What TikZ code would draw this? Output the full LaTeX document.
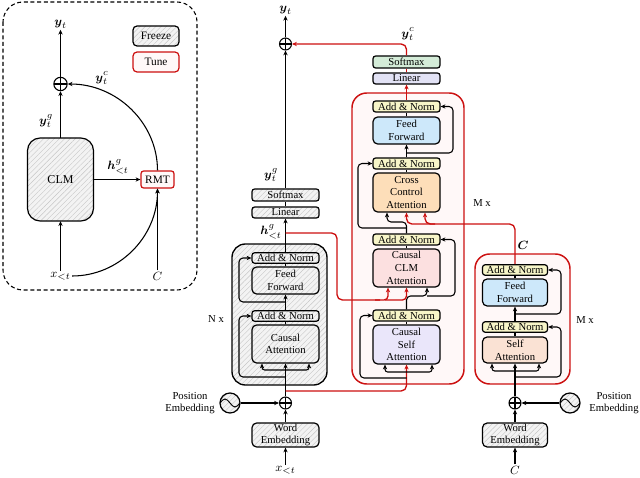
\documentclass[tikz,border=0pt]{standalone}
\usepackage{amsmath}
\usepackage{fontspec}
\setmainfont{Liberation Serif}
\usetikzlibrary{arrows.meta,patterns.meta,calc}
\definecolor{myred}{RGB}{204,16,16}
\definecolor{anY}{RGB}{247,245,200}
\definecolor{ffB}{RGB}{205,232,250}
\definecolor{ccO}{RGB}{253,222,185}
\definecolor{clmP}{RGB}{252,224,224}
\definecolor{csaL}{RGB}{234,230,250}
\definecolor{saP}{RGB}{250,226,212}
\definecolor{smG}{RGB}{212,236,216}
\definecolor{linL}{RGB}{226,226,245}
\definecolor{tuneF}{RGB}{255,248,248}
\definecolor{hatchF}{RGB}{243,243,243}
\tikzset{
  sz/.style 2 args={minimum width=#1*0.75pt, minimum height=#2*0.75pt},
  hatch/.style={preaction={fill=hatchF}, pattern={Lines[angle=45,distance=2.8pt,line width=0.3pt]}, pattern color=gray!45},
  box/.style={draw, line width=0.9pt, rounded corners=2pt, inner sep=0pt, align=center, font=\fontsize{8}{9.5}\selectfont},
  bigbox/.style={box, rounded corners=3.5pt},
  lab/.style={inner sep=1pt, font=\fontsize{9.5}{10}\selectfont},
  txt/.style={inner sep=1pt, align=center, font=\fontsize{8}{9.5}\selectfont},
  arr/.style={-{Stealth[length=3.6pt,width=3.2pt]}, line width=0.8pt},
  arrtwo/.style={{Stealth[length=3.6pt,width=3.2pt]}-{Stealth[length=3.6pt,width=3.2pt]}, line width=0.8pt},
  plainline/.style={line width=0.8pt},
  redarr/.style={-{Stealth[length=3.6pt,width=3.2pt]}, line width=1pt, myred},
  redline/.style={line width=1pt, myred},
  plusop/.style={circle, draw, line width=0.8pt, minimum size=9pt, inner sep=0pt, fill=white,
    path picture={\draw[line width=0.8pt] (path picture bounding box.north) -- (path picture bounding box.south)
      (path picture bounding box.west) -- (path picture bounding box.east);}},
  peop/.style={circle, draw, line width=0.9pt, minimum size=15pt, inner sep=0pt, hatch,
    path picture={\draw[line width=0.7pt] ([xshift=-7.5pt]path picture bounding box.center) sin ++(3.75pt,3pt) cos ++(3.75pt,-3pt) sin ++(3.75pt,-3pt) cos ++(3.75pt,3pt);}},
}
\begin{document}
\begin{tikzpicture}[x=0.75pt,y=-0.75pt]
\useasboundingbox (0,0) rectangle (640,478);

% ================= left overview panel =================
\draw[line width=0.8pt, dash pattern=on 3pt off 2pt, rounded corners=15pt] (3,2) rectangle (197,290);
\node[bigbox, hatch, sz={66}{83}, rounded corners=9.5pt, font=\fontsize{9}{10}\selectfont] (pclm) at (60.5,179.5) {CLM};
\node[box, draw=myred, fill=tuneF, sz={33}{17}, font=\fontsize{8.5}{10}\selectfont] (prmt) at (157.5,179.5) {RMT};
\node[box, hatch, sz={46}{20}, rounded corners=3pt, font=\fontsize{8.5}{10}\selectfont] (pfreeze) at (156,36) {Freeze};
\node[box, draw=myred, fill=tuneF, sz={46}{20}, rounded corners=3pt, font=\fontsize{8.5}{10}\selectfont] (ptune) at (156,62) {Tune};
\node[plusop, minimum size=10pt] (pplus) at (60.5,84) {};
\node[lab] (pyt) at (60.5,24) {$\boldsymbol{y}_t$};
\node[lab] (pyc) at (102,78) {$\boldsymbol{y}_t^{c}$};
\node[lab] (pyg) at (46,121) {$\boldsymbol{y}_t^{g}$};
\node[lab] (phg) at (118,167) {$\boldsymbol{h}^{g}_{<t}$};
\node[lab] (px) at (60.5,276) {$x_{<t}$};
\node[lab] (pC) at (157.5,276) {$C$};
\draw[arr] (pclm.north) -- (pplus.south);
\draw[arr] (pplus.north) -- (pyt.south);
\draw[arr] (pclm.east) -- (prmt.west);
\draw[arr] (prmt.north) .. controls (157.5,123) and (117,84) .. (pplus.east);
\draw[arr] (px.north) -- (pclm.south);
\draw[arr] (pC.north) -- (prmt.south);
\draw[arr] (px.east) .. controls (119,276) and (157.5,237) .. (prmt.south);

% ================= outer blocks =================
\draw[line width=1pt, rounded corners=10pt, hatch] (232,244) rectangle (327,385);
\draw[line width=1.1pt, draw=myred, fill=tuneF, rounded corners=11pt] (352,93) rectangle (464,384);
\draw[line width=1.1pt, draw=myred, fill=tuneF, rounded corners=11pt] (475,254) rectangle (570,384);

% ================= left column (frozen CLM) =================
\node[box, hatch, sz={67}{12}] (lsm) at (285.5,195) {Softmax};
\node[box, hatch, sz={67}{11}] (llin) at (285.5,212.5) {Linear};
\node[box, hatch, sz={67}{10.5}] (lan2) at (285.5,258) {Add \& Norm};
\node[bigbox, hatch, sz={67}{27}] (lff) at (285.5,280.5) {Feed\\Forward};
\node[box, hatch, sz={67}{10.5}] (lan1) at (285.5,316) {Add \& Norm};
\node[bigbox, hatch, sz={67}{38}] (lca) at (285.5,344) {Causal\\Attention};
\node[bigbox, hatch, sz={67}{24}] (lwe) at (285.5,435) {Word\\Embedding};
\node[plusop] (lplus) at (285.5,403) {};
\node[plusop] (ltop) at (285.5,44) {};
\node[peop] (lpe) at (230,403) {};
\node[lab] (lx) at (285.5,470) {$x_{<t}$};
\node[lab] (lyt) at (285.5,10) {$\boldsymbol{y}_t$};
\node[lab] (lyg) at (271,175) {$\boldsymbol{y}_t^{g}$};
\node[lab] (lhg) at (271,232) {$\boldsymbol{h}^{g}_{<t}$};
\node[txt] (lnx) at (216,319) {N x};
\node[txt] (lpel) at (190,403) {Position\\Embedding};

% ================= middle column (tuned) =================
\node[box, fill=smG, sz={67}{12}] (msm) at (406.5,62) {Softmax};
\node[box, fill=linL, sz={67}{11}] (mlin) at (406.5,78.5) {Linear};
\node[box, fill=anY, sz={67}{11}] (man6) at (406.5,106.5) {Add \& Norm};
\node[bigbox, fill=ffB, sz={67}{27}] (mff) at (406.5,130.5) {Feed\\Forward};
\node[box, fill=anY, sz={67}{11}] (man5) at (406.5,163.5) {Add \& Norm};
\node[bigbox, fill=ccO, sz={67}{39}] (mcca) at (406.5,192.5) {Cross\\Control\\Attention};
\node[box, fill=anY, sz={67}{11}] (man4) at (406.5,239.5) {Add \& Norm};
\node[bigbox, fill=clmP, sz={67}{38}] (mclm) at (406.5,268) {Causal\\CLM\\Attention};
\node[box, fill=anY, sz={67}{11}] (man3) at (406.5,315.5) {Add \& Norm};
\node[bigbox, fill=csaL, sz={67}{39}] (mcsa) at (406.5,344.5) {Causal\\Self\\Attention};
\node[lab] (myc) at (408,34) {$\boldsymbol{y}_t^{c}$};
\node[txt] (mmx) at (482,203) {M x};

% ================= right column (control encoder) =================
\node[box, fill=anY, sz={65}{10.5}] (ran2) at (515,270) {Add \& Norm};
\node[bigbox, fill=ffB, sz={65}{27}] (rff) at (515,292.5) {Feed\\Forward};
\node[box, fill=anY, sz={65}{10.5}] (ran1) at (515,327) {Add \& Norm};
\node[bigbox, fill=saP, sz={65}{26}] (rsa) at (515,350) {Self\\Attention};
\node[bigbox, hatch, sz={65}{24}] (rwe) at (515,435) {Word\\Embedding};
\node[plusop] (rplus) at (515,403) {};
\node[peop] (rpe) at (570,403) {};
\node[lab] (rC) at (515,470) {$C$};
\node[lab] (rCt) at (523,245) {$\boldsymbol{C}$};
\node[txt] (rmx) at (585,320) {M x};
\node[txt] (rpel) at (614,403) {Position\\Embedding};

% ================= connectors: left column =================
\draw[arr] (lx.north) -- (lwe.south);
\draw[arr] (lwe.north) -- (lplus.south);
\draw[arr] (lpe.east) -- (lplus.west);
\draw[arr] (lplus.north) -- (lca.south);
\draw[arrtwo, rounded corners=2pt] (lca.south -| 262,0) -- (262,370) -- (309,370) -- (lca.south -| 309,0);
\draw[arr, rounded corners=3pt] (285.5,377) -- (239,377) -- (239,316) -- (lan1.west);
\draw[plainline] (lca.north) -- (lan1.south);
\draw[arr] (lan1.north) -- (lff.south);
\draw[arr, rounded corners=3pt] (285.5,302) -- (239,302) -- (239,258) -- (lan2.west);
\draw[plainline] (lff.north) -- (lan2.south);
\draw[arr] (lan2.north) -- (llin.south);
\draw[plainline] (llin.north) -- (lsm.south);
\draw[arr] (lsm.north) -- (ltop.south);
\draw[arr] (ltop.north) -- (lyt.south);

% ================= connectors: middle column =================
\draw[redarr, rounded corners=4pt] (lplus.north |- 0,391) -- (406.5,391) -- (mcsa.south);
\draw[arrtwo, rounded corners=2pt] (mcsa.south -| 385,0) -- (385,372) -- (432,372) -- (mcsa.south -| 432,0);
\draw[arr, rounded corners=3pt] (406.5,378) -- (360,378) -- (360,315.5) -- (man3.west);
\draw[plainline] (mcsa.north) -- (man3.south);
\draw[arr, rounded corners=3pt] (man3.north) -- (406.5,296) -- (427,296) -- (mclm.south -| 427,0);
\draw[arr, rounded corners=3pt] (427,296) -- (455,296) -- (455,239.5) -- (man4.east);
\draw[redline, rounded corners=4pt] (lan2.north |- 0,233) -- (337,233) -- (337,300) -- (380,300);
\draw[redarr, rounded corners=3pt] (375,300) -- (388,300) -- (mclm.south -| 388,0);
\draw[redarr, rounded corners=3pt] (385,300) -- (406.5,300) -- (mclm.south);
\draw[plainline] (mclm.north) -- (man4.south);
\draw[arr, rounded corners=3pt] (man4.north) -- (406.5,222) -- (387,222) -- (mcca.south -| 387,0);
\draw[arr, rounded corners=3pt] (406.5,228) -- (358,228) -- (358,163.5) -- (man5.west);
\draw[redarr, rounded corners=4pt] (ran2.north) -- (515,224) -- (406.5,224) -- (mcca.south);
\draw[redarr, rounded corners=4pt] (435,224) -- (425,224) -- (mcca.south -| 425,0);
\draw[plainline] (mcca.north) -- (man5.south);
\draw[arr] (man5.north) -- (mff.south);
\draw[arr, rounded corners=3pt] (406.5,153) -- (453,153) -- (453,106.5) -- (man6.east);
\draw[plainline] (mff.north) -- (man6.south);
\draw[redarr] (man6.north) -- (mlin.south);
\draw[redline] (mlin.north) -- (msm.south);
\draw[redarr, rounded corners=4pt] (msm.north) -- (406.5,44) -- (ltop.east);

% ================= connectors: right column =================
\draw[arr] (rC.north) -- (rwe.south);
\draw[arr] (rwe.north) -- (rplus.south);
\draw[arr] (rpe.west) -- (rplus.east);
\draw[arr] (rplus.north) -- (rsa.south);
\draw[arrtwo, rounded corners=2pt] (rsa.south -| 492,0) -- (492,371) -- (539,371) -- (rsa.south -| 539,0);
\draw[arr, rounded corners=3pt] (515,377) -- (561,377) -- (561,327) -- (ran1.east);
\draw[plainline] (rsa.north) -- (ran1.south);
\draw[arr] (ran1.north) -- (rff.south);
\draw[arr, rounded corners=3pt] (515,314) -- (561,314) -- (561,270) -- (ran2.east);
\draw[plainline] (rff.north) -- (ran2.south);
\end{tikzpicture}
\end{document}
